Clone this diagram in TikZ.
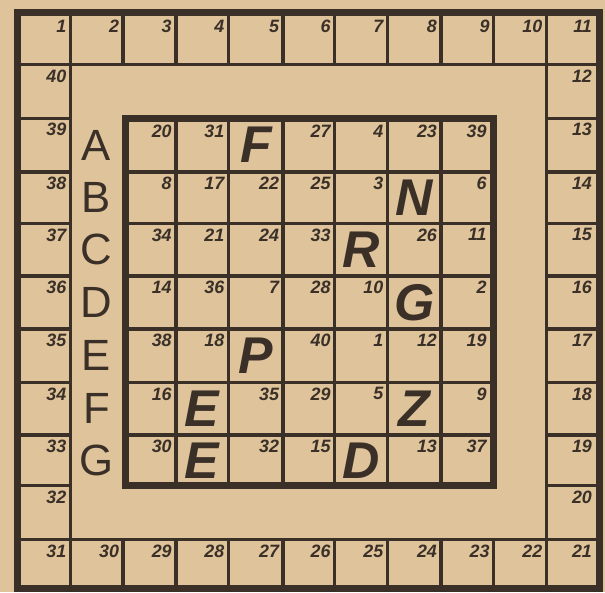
\documentclass[tikz,border=0pt]{standalone}
\usepackage{fontspec}
\setmainfont{Liberation Sans}
\usetikzlibrary{calc}
\definecolor{paper}{RGB}{222,195,155}
\definecolor{ink}{RGB}{58,48,40}
\begin{document}
\begin{tikzpicture}[x=1pt,y=-1pt,
  thinline/.style={draw=ink, line width=3.4pt},
  thickline/.style={draw=ink, line width=7pt},
  num/.style={font=\fontsize{18}{18}\selectfont\bfseries\itshape, text=ink, anchor=north east, inner sep=0pt},
  big/.style={font=\fontsize{52}{52}\selectfont\bfseries\itshape, text=ink, inner sep=0pt},
  rowlabel/.style={font=\fontsize{44}{44}\selectfont, text=ink, inner sep=0pt}]
\fill[paper] (-2,-2) rectangle (607,594);
\useasboundingbox (0,0) rectangle (605,592);
% grid positions
\foreach \i/\v in {0/16,1/69,2/122,3/175,4/228,5/283,6/335,7/388,8/442,9/495,10/548,11/601}
  \coordinate (X\i) at (\v,0);
\foreach \j/\v in {0/11,1/63,2/117,3/171,4/223,5/276,6/329,7/383,8/436,9/487,10/541,11/590}
  \coordinate (Y\j) at (0,\v);
% ring lines
\draw[thinline] (X0|-Y1) -- (X11|-Y1);
\draw[thinline] (X0|-Y10) -- (X11|-Y10);
\draw[thinline] (X1|-Y0) -- (X1|-Y11);
\draw[thinline] (X10|-Y0) -- (X10|-Y11);
\foreach \i in {2,...,9}{
  \draw[thinline] (X\i|-Y0) -- (X\i|-Y1);
  \draw[thinline] (X\i|-Y10) -- (X\i|-Y11);
  \draw[thinline] (X0|-Y\i) -- (X1|-Y\i);
  \draw[thinline] (X10|-Y\i) -- (X11|-Y\i);
}
\draw[thickline] (X0|-Y0) rectangle (X11|-Y11);
% inner square
\coordinate (IL) at (124,0);
\foreach \i in {3,...,8}{
  \draw[thinline] (X\i|-Y2) -- (X\i|-Y9);
  \draw[thinline] (IL|-Y\i) -- (X9|-Y\i);
}
\draw[thickline] (IL|-Y2) rectangle (X9|-Y9);
% outer numbers
\foreach \c [evaluate=\c as \cn using int(\c+1), evaluate=\c as \n using int(\c+1)] in {0,...,9}
  \node[num] (o\n) at ($(X\cn|-Y0)+(-4,7)$) {\n};
\node[num] (o11) at ($(X11|-Y0)+(-7,7)$) {11};
\foreach \j [evaluate=\j as \n using int(11+\j)] in {1,...,9}
  \node[num] (o\n) at ($(X11|-Y\j)+(-7,5)$) {\n};
\node[num] (o21) at ($(X11|-Y10)+(-7,5)$) {21};
\foreach \c [evaluate=\c as \cn using int(\c+1), evaluate=\c as \n using int(31-\c)] in {0,...,9}
  \node[num] (o\n) at ($(X\cn|-Y10)+(-4,5)$) {\n};
\foreach \j [evaluate=\j as \n using int(41-\j)] in {1,...,9}
  \node[num] (o\n) at ($(X1|-Y\j)+(-4,5)$) {\n};
% row labels
\foreach \r/\L in {0/A,1/B,2/C,3/D,4/E,5/F,6/G}{
  \pgfmathtruncatemacro\ra{\r+2}
  \pgfmathtruncatemacro\rb{\r+3}
  \node[rowlabel] (l\L) at ($(X2|-Y\ra)!0.5!(X2|-Y\rb)+(-27,0)$) {\L};
}
% inner numbers
\foreach \r/\c/\v in {0/0/20,0/1/31,0/3/27,0/4/4,0/5/23,0/6/39,
  1/0/8,1/1/17,1/2/22,1/3/25,1/4/3,1/6/6,
  2/0/34,2/1/21,2/2/24,2/3/33,2/5/26,2/6/11,
  3/0/14,3/1/36,3/2/7,3/3/28,3/4/10,3/6/2,
  4/0/38,4/1/18,4/3/40,4/4/1,4/5/12,4/6/19,
  5/0/16,5/2/35,5/3/29,5/4/5,5/6/9,
  6/0/30,6/2/32,6/3/15,6/5/13,6/6/37}{
  \pgfmathtruncatemacro\ra{\r+2}
  \pgfmathtruncatemacro\cb{\c+3}
  \pgfmathsetmacro\dx{ifthenelse(\c==6,-7,-4)}
  \pgfmathsetmacro\dy{ifthenelse(\r==0,7,5)}
  \node[num] (n-\r-\c) at ($(X\cb|-Y\ra)+(\dx,\dy)$) {\v};
}
% big letters
\foreach \r/\c/\L in {0/2/F,1/5/N,2/4/R,3/5/G,4/2/P,5/1/E,5/5/Z,6/1/E,6/4/D}{
  \pgfmathtruncatemacro\ra{\r+2}
  \pgfmathtruncatemacro\rb{\r+3}
  \pgfmathtruncatemacro\ca{\c+2}
  \pgfmathtruncatemacro\cb{\c+3}
  \node[big] (b-\r-\c) at ($(X\ca|-Y\ra)!0.5!(X\cb|-Y\rb)$) {\L};
}
\end{tikzpicture}
\end{document}
